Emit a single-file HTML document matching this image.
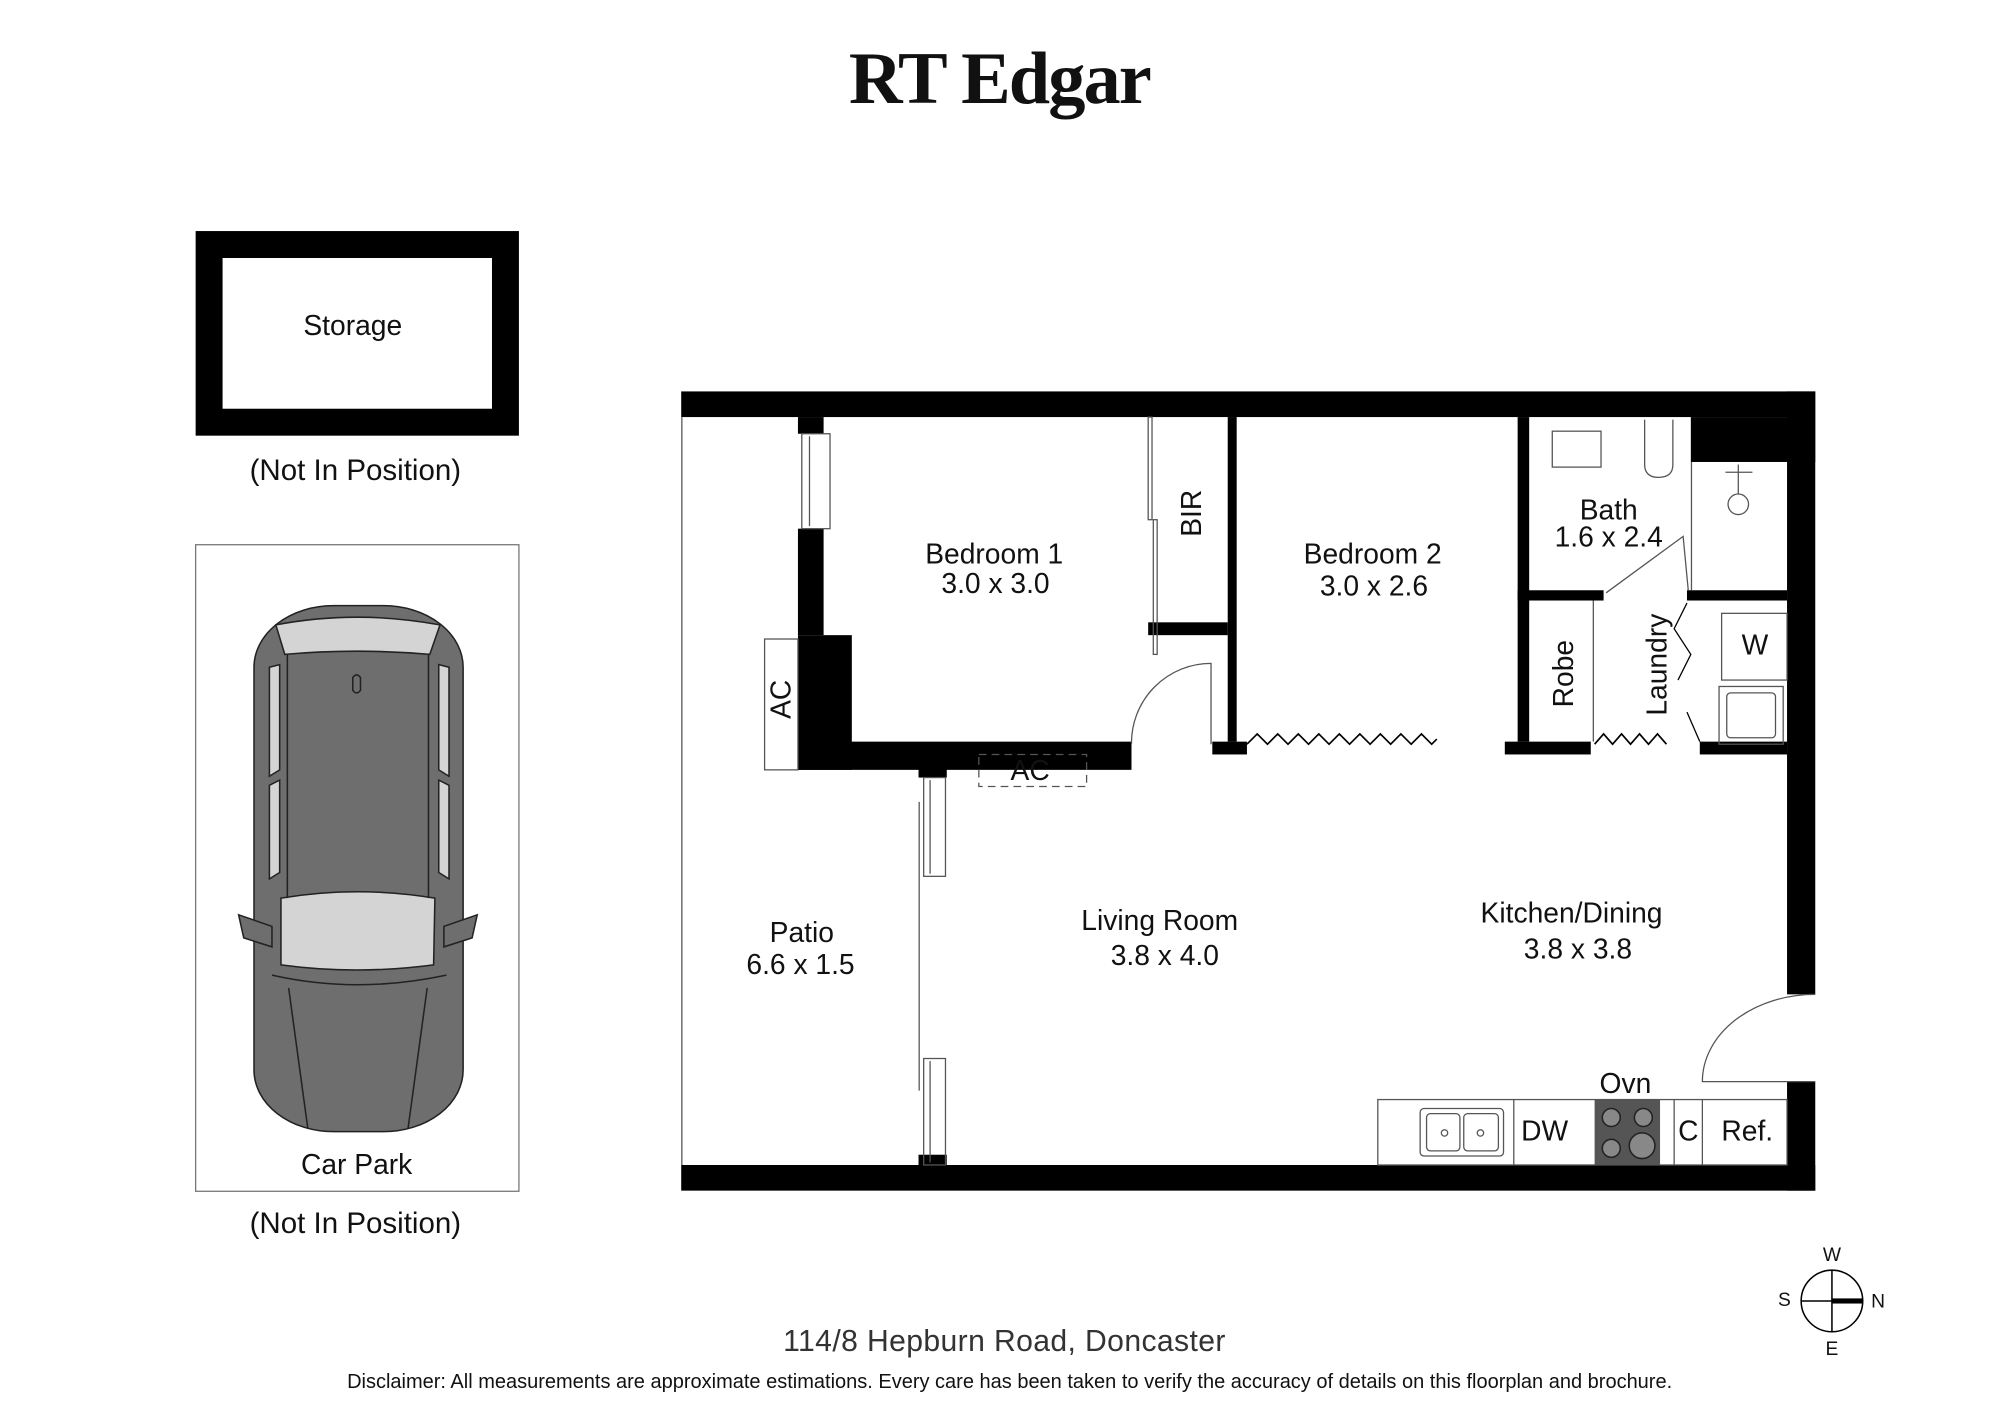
<!DOCTYPE html>
<html><head><meta charset="utf-8"><style>
html,body{margin:0;padding:0;background:#fff;}
svg{display:block;}
text{font-family:"Liberation Sans",sans-serif;fill:#111;}
.l{font-size:22px;text-anchor:middle;}
</style></head><body>
<svg width="2000" height="1414" viewBox="0 0 1559 1102" xmlns="http://www.w3.org/2000/svg">
<rect width="1559" height="1102" fill="#fff"/>
<text x="779" y="80" text-anchor="middle" style="font-family:'Liberation Serif',serif;font-weight:bold;font-size:58px;letter-spacing:-1.5px">RT Edgar</text>

<!-- Storage -->
<rect x="163" y="190.5" width="231" height="138.5" fill="none" stroke="#000" stroke-width="21"/>
<text class="l" x="275" y="261">Storage</text>
<text class="l" x="277" y="374" style="font-size:23px">(Not In Position)</text>

<!-- Car park -->
<rect x="152.5" y="424.5" width="252" height="504" fill="none" stroke="#777" stroke-width="1"/>
<g stroke="#222" stroke-width="1.2">
<rect x="198" y="472" width="163" height="410" rx="62" ry="48" fill="#6e6e6e"/>
<path d="M186 713 L212 722 L212 738 L190 731 Z M372 713 L346 722 L346 738 L368 731 Z" fill="#6e6e6e"/>
<path d="M215 487 Q278 475 343 487 L335 510 Q278 505 222 510 Z" fill="#d4d4d4"/>
<path d="M219 700 Q278 690 339 700 L338 752 Q278 760 219 752 Z" fill="#d4d4d4"/>
<path d="M210 520 L218 518 L218 600 L210 605 Z M350 520 L342 518 L342 600 L350 605 Z M210 612 L218 608 L218 680 L210 685 Z M350 612 L342 608 L342 680 L350 685 Z" fill="#d4d4d4"/>
<path d="M224 510 L224 700 M334 510 L334 700 M212 760 Q278 775 348 760 M225 770 L240 880 M333 770 L318 880" fill="none"/>
<path d="M275 528 Q278 524 281 528 L281 538 Q278 542 275 538 Z" fill="#6e6e6e"/>
</g>
<text class="l" x="278" y="915">Car Park</text>
<text class="l" x="277" y="961" style="font-size:23px">(Not In Position)</text>

<!-- Floorplan -->
<g fill="#000">
<rect x="531" y="305" width="884" height="20"/>
<rect x="531" y="908" width="884" height="20"/>
<rect x="1393" y="305" width="22" height="470"/>
<rect x="1393" y="843" width="22" height="85"/>
<rect x="1318" y="325" width="97" height="35"/>
<rect x="622" y="325" width="20" height="13"/>
<rect x="622" y="412" width="20" height="83"/>
<rect x="622" y="495" width="42" height="105"/>
<rect x="622" y="578" width="260" height="22"/>
<rect x="716" y="588" width="22" height="18"/>
<rect x="716" y="900" width="22" height="8"/>
<rect x="895" y="485" width="62" height="10"/>
<rect x="957" y="325" width="7" height="253"/>
<rect x="945" y="578" width="27" height="10"/>
<rect x="1183" y="325" width="9" height="253"/>
<rect x="1173" y="578" width="67" height="10"/>
<rect x="1183" y="460" width="67" height="8"/>
<rect x="1315" y="460" width="78" height="8"/>
<rect x="1325" y="578" width="68" height="10"/>
</g>
<g fill="none" stroke="#555" stroke-width="1">
<line x1="531.5" y1="325" x2="531.5" y2="908"/>
<rect x="625" y="338" width="22" height="74"/><line x1="631" y1="340" x2="631" y2="410"/>
<rect x="720" y="606" width="17" height="77"/><line x1="725" y1="608" x2="725" y2="681"/>
<rect x="720" y="825" width="17" height="83"/><line x1="725" y1="827" x2="725" y2="906"/>
<line x1="716.5" y1="625" x2="716.5" y2="850"/>
<rect x="596" y="498" width="26" height="102" fill="#fff"/>
<rect x="763" y="588" width="84" height="25" stroke-dasharray="6,4"/>
<rect x="895" y="325" width="3" height="80"/><rect x="899" y="405" width="3" height="105"/>
<path d="M882 580 A62 62 0 0 1 944 517 L944 580"/>
<path d="M972 580 l8 -8 l8 8 l8 -8 l8 8 l8 -8 l8 8 l8 -8 l8 8 l8 -8 l8 8 l8 -8 l8 8 l8 -8 l8 8 l8 -8 l8 8 l8 -8 l8 8 l4 -4" stroke="#000" stroke-width="1.3"/>
<path d="M1243 580 l7 -8 l7 8 l7 -8 l7 8 l7 -8 l7 8 l7 -8 l7 8" stroke="#000" stroke-width="1.3"/>
<rect x="1210" y="336" width="38" height="28"/>
<path d="M1282 327 L1282 362 Q1282 372 1293 372 Q1304 372 1304 362 L1304 327"/>
<line x1="1318.5" y1="360" x2="1318.5" y2="460"/>
<circle cx="1355" cy="393" r="8"/><line x1="1355" y1="362" x2="1355" y2="385"/><line x1="1345" y1="368" x2="1366" y2="368"/>
<path d="M1252 462 L1312 418 L1316 460"/>
<line x1="1242" y1="468" x2="1242" y2="578"/>
<path d="M1315 470 L1305 490 L1318 510 L1308 530" stroke="#000"/>
<path d="M1315 555 L1325 578" stroke="#000"/>
<rect x="1342" y="478" width="51" height="52"/>
<rect x="1340" y="535" width="50" height="45"/><rect x="1346" y="540" width="38" height="35" rx="3"/>
<rect x="1074" y="857" width="319" height="51"/>
<line x1="1180" y1="857" x2="1180" y2="908"/>
<line x1="1305" y1="857" x2="1305" y2="908"/>
<line x1="1327" y1="857" x2="1327" y2="908"/>
<rect x="1107" y="864" width="65" height="37" rx="3"/>
<rect x="1112" y="868" width="26" height="29" rx="3"/><rect x="1141" y="868" width="27" height="29" rx="3"/>
<circle cx="1126" cy="883" r="2.5"/><circle cx="1154" cy="883" r="2.5"/>
<path d="M1415 775 A88 68 0 0 0 1327 843 L1415 843"/>
</g>
<rect x="1243" y="857" width="51" height="51" fill="#555"/>
<g fill="#888" stroke="#222" stroke-width="1.2">
<circle cx="1256" cy="871" r="7"/><circle cx="1281" cy="871" r="7"/>
<circle cx="1256" cy="895" r="7"/><circle cx="1280" cy="893" r="10"/>
</g>

<!-- labels -->
<text class="l" x="775" y="439">Bedroom 1</text>
<text class="l" x="776" y="462">3.0 x 3.0</text>
<text class="l" x="1070" y="439">Bedroom 2</text>
<text class="l" x="1071" y="464">3.0 x 2.6</text>
<text class="l" x="1254" y="405">Bath</text>
<text class="l" x="1254" y="426">1.6 x 2.4</text>
<text class="l" transform="translate(936,400) rotate(-90)">BIR</text>
<text class="l" transform="translate(1226,525) rotate(-90)">Robe</text>
<text class="l" transform="translate(1299,518) rotate(-90)">Laundry</text>
<text class="l" x="1368" y="510">W</text>
<text class="l" transform="translate(616,545) rotate(-90)">AC</text>
<text class="l" x="803" y="608">AC</text>
<text class="l" x="625" y="734">Patio</text>
<text class="l" x="624" y="759">6.6 x 1.5</text>
<text class="l" x="904" y="725">Living Room</text>
<text class="l" x="908" y="752">3.8 x 4.0</text>
<text class="l" x="1225" y="719">Kitchen/Dining</text>
<text class="l" x="1230" y="747">3.8 x 3.8</text>
<text class="l" x="1267" y="852">Ovn</text>
<text class="l" x="1204" y="889">DW</text>
<text class="l" x="1316" y="889">C</text>
<text class="l" x="1362" y="889">Ref.</text>

<!-- compass -->
<g fill="none" stroke="#000" stroke-width="1.2">
<circle cx="1428" cy="1014" r="24"/>
<line x1="1428" y1="990" x2="1428" y2="1038"/>
<line x1="1404" y1="1014" x2="1452" y2="1014"/>
</g>
<rect x="1428" y="1012" width="24" height="4" fill="#000"/>
<g style="font-size:15px" text-anchor="middle">
<text x="1428" y="983">W</text><text x="1428" y="1056">E</text>
<text x="1391" y="1018">S</text><text x="1464" y="1019">N</text>
</g>

<text x="783" y="1053" text-anchor="middle" style="font-size:23.5px;fill:#333;letter-spacing:0.3px">114/8 Hepburn Road, Doncaster</text>
<text x="787" y="1082" text-anchor="middle" style="font-size:15.6px">Disclaimer: All measurements are approximate estimations. Every care has been taken to verify the accuracy of details on this floorplan and brochure.</text>
</svg>
</body></html>
